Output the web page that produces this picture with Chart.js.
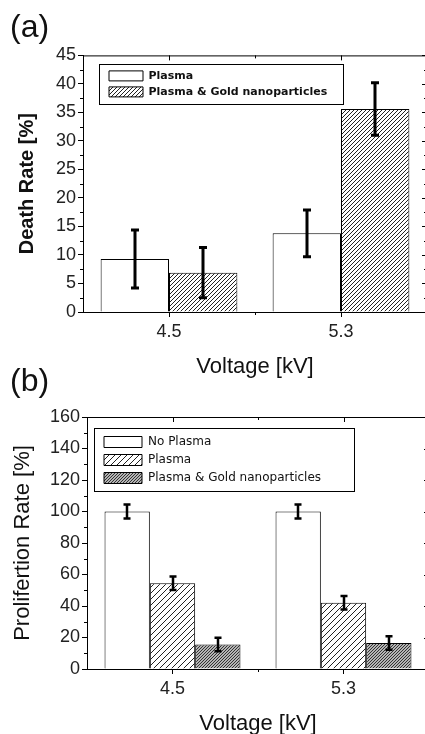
<!DOCTYPE html>
<html lang="en">
<head>
<meta charset="utf-8">
<title>Death and proliferation rate</title>
<style>
  html, body { margin: 0; padding: 0; background: #fff; overflow: hidden; }
  #wrap { position: relative; width: 425px; height: 734px; overflow: hidden; }
  canvas { position: absolute; left: 0; }
  #chart-a { top: 0; }
  #chart-b { top: 360px; }
</style>
</head>
<body>
<div id="wrap">
  <canvas id="chart-a" width="432" height="385"></canvas>
  <canvas id="chart-b" width="432" height="378"></canvas>
</div>
<script src="https://cdn.jsdelivr.net/npm/chart.js@4.4.1/dist/chart.umd.min.js"></script>
<script>
// shared categories
var voltages = ['4.5', '5.3'];

// panel (a): death rate [%]
var deathPlasma = [9.3, 13.8];
var deathPlasmaErr = [5.1, 4.1];
var deathGold = [6.9, 35.6];
var deathGoldErr = [4.4, 4.6];
var deathRange = [0, 45];
var deathSteps = [5, 2.5];   // major, minor

// panel (b): proliferation rate [%]
var prolifNoPlasma = [100, 100];
var prolifNoPlasmaErr = [4.4, 4.4];
var prolifPlasma = [54.5, 42];
var prolifPlasmaErr = [4.3, 4.3];
var prolifGold = [15.5, 16.5];
var prolifGoldErr = [4.3, 4.3];
var prolifRange = [0, 160];
var prolifSteps = [20, 10];

var fam = '"Liberation Sans", Arial, sans-serif';

function hatch(size, bg, fg) {
  var c = document.createElement('canvas');
  c.width = size; c.height = size;
  var g = c.getContext('2d');
  g.fillStyle = bg;
  g.fillRect(0, 0, size, size);
  g.strokeStyle = fg;
  g.lineWidth = 1;
  g.beginPath();
  g.moveTo(-1, size + 1); g.lineTo(size + 1, -1);
  g.moveTo(-1, 1); g.lineTo(1, -1);
  g.moveTo(size - 1, size + 1); g.lineTo(size + 1, size - 1);
  g.stroke();
  return g.createPattern(c, 'repeat');
}

// error bars drawn from each bar element and the y scale
var errorBars = {
  id: 'errorBars',
  afterDatasetsDraw: function(chart, args, opts) {
    var ctx = chart.ctx, ys = chart.scales.y;
    ctx.save();
    ctx.strokeStyle = '#000';
    ctx.lineWidth = opts.width;
    chart.data.datasets.forEach(function(ds, di) {
      chart.getDatasetMeta(di).data.forEach(function(bar, i) {
        var v = ds.data[i], e = ds.errors[i];
        var top = ys.getPixelForValue(v + e), bot = ys.getPixelForValue(v - e);
        var x = Math.round(bar.x);
        ctx.beginPath();
        ctx.moveTo(x, top); ctx.lineTo(x, bot);
        ctx.moveTo(x - opts.cap, top); ctx.lineTo(x + opts.cap, top);
        ctx.moveTo(x - opts.cap, bot); ctx.lineTo(x + opts.cap, bot);
        ctx.stroke();
      });
    });
    ctx.restore();
  }
};

// closed frame, minor/inner ticks, legend placement and legend box
var frame = {
  id: 'frame',
  beforeDraw: function(chart, args, opts) {
    var a = chart.chartArea, lg = chart.legend;
    lg.left = a.left + opts.legendX;
    lg.top = a.top + opts.legendY;
    lg.right = lg.left + opts.box[2];
    lg.bottom = a.bottom;
  },
  afterDraw: function(chart, args, opts) {
    var ctx = chart.ctx, a = chart.chartArea, xs = chart.scales.x, ys = chart.scales.y;
    ctx.save();
    ctx.strokeStyle = '#000';
    ctx.lineWidth = 1;
    ctx.beginPath();
    ctx.moveTo(a.left, a.top + 0.5); ctx.lineTo(a.right, a.top + 0.5);
    ctx.moveTo(a.right - 0.5, a.top); ctx.lineTo(a.right - 0.5, a.bottom);
    for (var v = ys.min; v <= ys.max + 1e-9; v += opts.minor) {
      var y = Math.round(ys.getPixelForValue(v)) + 0.5;
      var r = v / opts.major;
      var major = Math.abs(r - Math.round(r)) < 1e-6;
      if (!major) { ctx.moveTo(a.left - 3, y); ctx.lineTo(a.left, y); }
      ctx.moveTo(a.right, y); ctx.lineTo(a.right - (major ? 5 : 3), y);
    }
    for (var i = 0; i < xs.ticks.length; i++) {
      var x = Math.round(xs.getPixelForValue(i)) + 0.5;
      ctx.moveTo(x, a.top); ctx.lineTo(x, a.top + 5);
    }
    var mid = Math.round((xs.getPixelForValue(0) + xs.getPixelForValue(1)) / 2) + 0.5;
    ctx.moveTo(mid, a.top); ctx.lineTo(mid, a.top + 3);
    ctx.moveTo(mid, a.bottom); ctx.lineTo(mid, a.bottom + 3);
    ctx.stroke();
    var lg = chart.legend, b = opts.box;
    ctx.strokeRect(Math.round(lg.left + b[0]) + 0.5, Math.round(lg.top + b[1]) + 0.5, b[2], b[3]);
    ctx.restore();
  }
};

function makeOptions(o) {
  return {
    responsive: false,
    animation: false,
    events: [],
    layout: { padding: { left: 10, right: o.padRight, top: 0, bottom: 0 } },
    plugins: {
      title: {
        display: true, text: o.label, align: 'start', color: '#111',
        font: { family: fam, size: 32, weight: 'normal' },
        padding: { top: o.titleTop, bottom: o.titleBottom }
      },
      legend: {
        position: 'chartArea', align: 'start',
        labels: {
          boxWidth: o.boxW, boxHeight: o.boxH, padding: o.legendPad, color: '#111',
          font: { family: '"DejaVu Sans", sans-serif', size: o.legendSize, weight: o.legendWeight }
        }
      },
      tooltip: { enabled: false },
      errorBars: { width: o.errWidth, cap: o.cap },
      frame: { major: o.steps[0], minor: o.steps[1], legendX: o.legendX, legendY: o.legendY, box: o.box }
    },
    scales: {
      x: {
        offset: true,
        grid: { display: true, offset: false, drawOnChartArea: false, drawTicks: true, tickLength: 5, color: '#000' },
        border: { display: true, color: '#000', width: 1 },
        ticks: { font: { family: fam, size: 18 }, color: '#222', padding: 4 },
        title: {
          display: true, text: 'Voltage [kV]', color: '#111',
          font: { family: fam, size: 22 }, padding: { top: 0, bottom: o.xTitlePad }
        },
        afterFit: function(s) { s.height = o.xHeight; }
      },
      y: {
        min: o.range[0], max: o.range[1],
        grid: { drawOnChartArea: false, drawTicks: true, tickLength: 5, color: '#000' },
        border: { display: true, color: '#000', width: 1 },
        ticks: { stepSize: o.steps[0], font: { family: fam, size: 18 }, color: '#222', padding: 2 },
        title: {
          display: true, text: o.yTitle, color: '#111',
          font: { family: fam, size: o.yTitleSize, weight: o.yTitleWeight },
          padding: { top: o.yTitlePad, bottom: 0 }
        },
        afterFit: function(s) { s.width = o.yWidth; }
      }
    }
  };
}

function bars(label, data, errors, fill) {
  return {
    label: label, data: data, errors: errors,
    backgroundColor: fill, borderColor: '#000', borderWidth: 1,
    categoryPercentage: 0.795, barPercentage: 1.0
  };
}

new Chart(document.getElementById('chart-a'), {
  type: 'bar',
  data: {
    labels: voltages,
    datasets: [
      bars('Plasma', deathPlasma, deathPlasmaErr, '#fff'),
      bars('Plasma & Gold nanoparticles', deathGold, deathGoldErr, hatch(4, '#fff', '#222'))
    ]
  },
  options: makeOptions({
    label: '(a)', titleTop: 9, titleBottom: 8, padRight: 5,
    boxW: 34, boxH: 10, legendPad: 5, legendSize: 11, legendWeight: 'bold',
    legendX: 21, legendY: 10, box: [-5, -1, 244, 40],
    errWidth: 3, cap: 4, steps: deathSteps, range: deathRange,
    xTitlePad: 4.8, xHeight: 73,
    yTitle: 'Death Rate [%]', yTitleSize: 20, yTitleWeight: 'bold', yTitlePad: 5, yWidth: 73
  }),
  plugins: [errorBars, frame]
});

new Chart(document.getElementById('chart-b'), {
  type: 'bar',
  data: {
    labels: voltages,
    datasets: [
      bars('No Plasma', prolifNoPlasma, prolifNoPlasmaErr, '#fff'),
      bars('Plasma', prolifPlasma, prolifPlasmaErr, hatch(6, '#fff', '#222')),
      bars('Plasma & Gold nanoparticles', prolifGold, prolifGoldErr, hatch(3, '#b4b4b4', '#333'))
    ]
  },
  options: makeOptions({
    label: '(b)', titleTop: 3, titleBottom: 15.6, padRight: 3,
    boxW: 38, boxH: 11, legendPad: 6, legendSize: 12, legendWeight: 'normal',
    legendX: 11, legendY: 13, box: [-4, -2, 260, 63],
    errWidth: 2.5, cap: 3.5, steps: prolifSteps, range: prolifRange,
    xTitlePad: 0.8, xHeight: 69,
    yTitle: 'Prolifertion Rate [%]', yTitleSize: 22, yTitleWeight: 'normal', yTitlePad: 0, yWidth: 77
  }),
  plugins: [errorBars, frame]
});
</script>
</body>
</html>
